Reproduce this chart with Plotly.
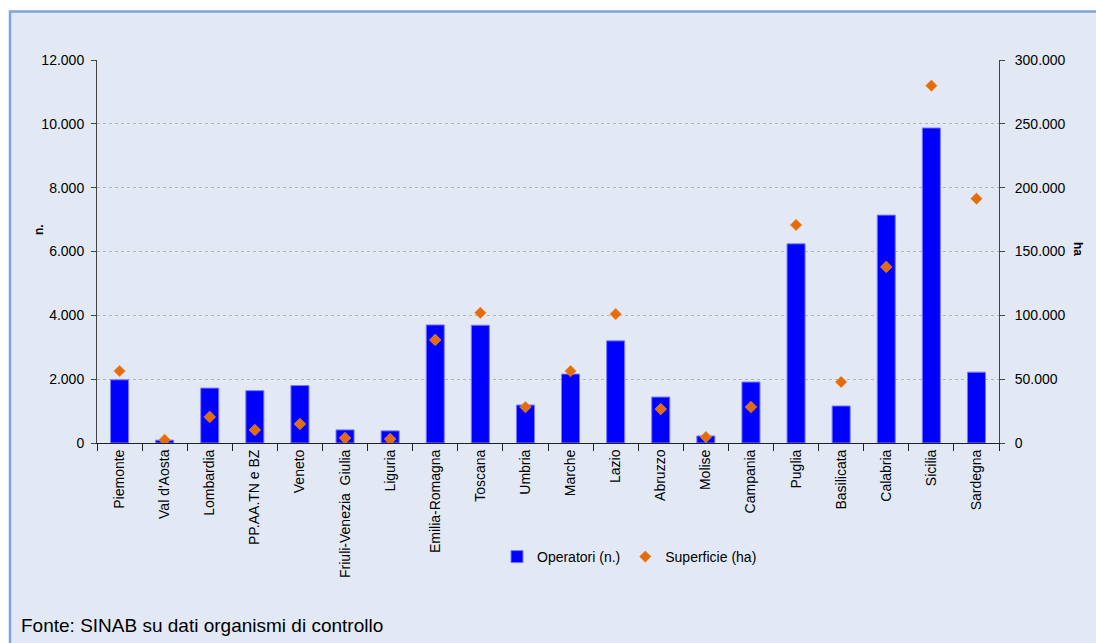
import plotly.graph_objects as go

regioni = ["Piemonte", "Val d'Aosta", "Lombardia", "PP.AA.TN e BZ", "Veneto",
           "Friuli-Venezia  Giulia", "Liguria", "Emilia-Romagna", "Toscana", "Umbria",
           "Marche", "Lazio", "Abruzzo", "Molise", "Campania", "Puglia", "Basilicata",
           "Calabria", "Sicilia", "Sardegna"]
operatori = [1980, 90, 1720, 1640, 1800, 410, 380, 3700, 3690, 1190,
             2160, 3200, 1440, 220, 1910, 6240, 1160, 7140, 9870, 2220]
superficie_ha = [56400, 2500, 20400, 10200, 14900, 3900, 3100, 80700, 102000, 28200,
                 56400, 101000, 26600, 4700, 28200, 170800, 47800, 137900, 279900, 191400]

left_ticks = [0, 2000, 4000, 6000, 8000, 10000, 12000]
right_ticks = [0, 50000, 100000, 150000, 200000, 250000, 300000]

W, H = 1096, 643
ML, MR, MT, MB = 97, 97, 60, 200
PW, PH = W - ML - MR, H - MT - MB


def px_x(px):
    return (px - ML) / PW


def px_y(py):
    return (H - MB - py) / PH


font_main = "Liberation Sans, Arial, sans-serif"

fig = go.Figure()
fig.add_trace(go.Bar(
    x=regioni, y=operatori, name="Operatori (n.)", width=0.4,
    marker=dict(color="#0000FF", line=dict(color="#7A7AFF", width=1)),
    yaxis="y",
))
fig.add_trace(go.Scatter(
    x=regioni, y=superficie_ha, name="Superficie (ha)", mode="markers",
    marker=dict(symbol="diamond", size=9, color="#E46C0A",
                line=dict(color="#F0A060", width=0.5)),
    yaxis="y2",
))

fig.update_layout(
    width=W, height=H,
    margin=dict(l=ML, r=MR, t=MT, b=MB, pad=0),
    paper_bgcolor="white",
    plot_bgcolor="white",
    separators=",.",
    font=dict(family=font_main, size=14, color="black"),
    showlegend=True,
    bargap=0.6,
    legend=dict(orientation="h", x=px_x(497), y=px_y(557), xanchor="left",
                yanchor="middle", bgcolor="rgba(0,0,0,0)",
                font=dict(size=14), itemwidth=30, tracegroupgap=0),
    xaxis=dict(
        type="category", showgrid=False, showline=True, linecolor="#222222",
        linewidth=1, ticks="outside", ticklen=7, tickcolor="#222222",
        tickson="boundaries", tickangle=-90, tickfont=dict(size=14),
        range=[-0.5, len(regioni) - 0.5], mirror=False,
    ),
    yaxis=dict(
        range=[0, 12000], tickvals=left_ticks, tickformat=",d",
        showline=True, linecolor="#444444", linewidth=1,
        ticks="outside", ticklen=5, tickcolor="#444444", ticklabelstandoff=4,
        showgrid=True, gridcolor="#B4B4B4", griddash="dot", gridwidth=1,
        zeroline=False, tickfont=dict(size=14),
    ),
    yaxis2=dict(
        range=[0, 300000], tickvals=right_ticks, tickformat=",d",
        overlaying="y", side="right", showline=True, linecolor="#444444",
        linewidth=1, ticks="outside", ticklen=5, tickcolor="#444444",
        ticklabelstandoff=7,
        showgrid=False, zeroline=False, tickfont=dict(size=14),
    ),
)

# outer frame of the chart
fig.add_shape(type="rect", xref="paper", yref="paper",
              x0=px_x(10), x1=px_x(1100), y0=px_y(650), y1=px_y(11.5),
              fillcolor="#E2E9F5", line=dict(color="#7FA3DA", width=2.5),
              layer="below")

# axis titles
fig.add_annotation(text="<b>n.</b>", xref="paper", yref="paper",
                   x=px_x(30), y=px_y(230), showarrow=False, textangle=-90,
                   font=dict(size=12))
fig.add_annotation(text="<b>ha</b>", xref="paper", yref="paper",
                   x=px_x(1087), y=px_y(249), showarrow=False, textangle=90,
                   font=dict(size=12))

# source note
fig.add_annotation(text="Fonte: SINAB su dati organismi di controllo",
                   xref="paper", yref="paper", x=px_x(19), y=px_y(625),
                   xanchor="left", yanchor="middle", showarrow=False,
                   font=dict(family="Liberation Sans Narrow, Arial Narrow, sans-serif",
                             size=19, color="black"))

fig.write_html("out.html")
